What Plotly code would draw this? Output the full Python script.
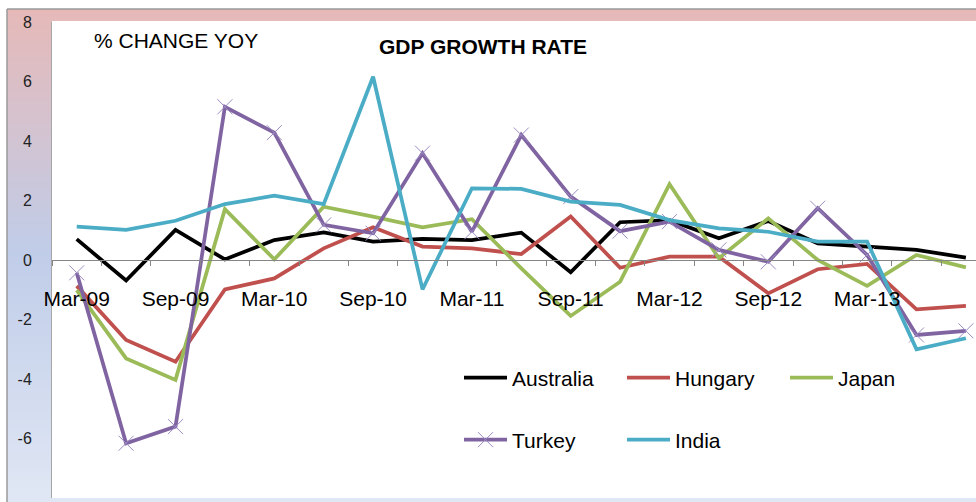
import plotly.graph_objects as go

quarters = ["Mar-09", "Jun-09", "Sep-09", "Dec-09", "Mar-10", "Jun-10", "Sep-10", "Dec-10",
            "Mar-11", "Jun-11", "Sep-11", "Dec-11", "Mar-12", "Jun-12", "Sep-12", "Dec-12",
            "Mar-13", "Jun-13", "Sep-13"]
australia = [0.70, -0.69, 1.01, 0.02, 0.67, 0.93, 0.62, 0.71, 0.67, 0.92, -0.41, 1.27,
             1.34, 0.73, 1.31, 0.56, 0.45, 0.34, 0.08]
hungary = [-0.87, -2.69, -3.42, -0.99, -0.62, 0.39, 1.10, 0.45, 0.39, 0.20, 1.46, -0.26,
           0.11, 0.11, -1.12, -0.31, -0.13, -1.66, -1.54]
japan = [-1.01, -3.31, -4.03, 1.71, 0.02, 1.79, 1.46, 1.10, 1.37, -0.28, -1.88, -0.73,
         2.55, 0.06, 1.40, 0.00, -0.87, 0.17, -0.25]
turkey = [-0.43, -6.16, -5.60, 5.15, 4.28, 1.18, 0.90, 3.59, 0.95, 4.20, 2.13, 0.97,
          1.29, 0.34, -0.06, 1.74, 0.17, -2.52, -2.38]
india = [1.12, 1.01, 1.32, 1.88, 2.16, 1.88, 6.16, -0.99, 2.41, 2.39, 1.96, 1.85,
         1.34, 1.06, 0.95, 0.62, 0.62, -3.00, -2.63]

y_ticks = [-8, -6, -4, -2, 0, 2, 4, 6, 8]
x_label_idx = list(range(0, 17, 2))

W, H = 976, 502
ML, MR, MT, MB = 52, 0, 22, 4
PW, PH = W - ML - MR, H - MT - MB

def px_to_paper_x(px):
    return (px - ML) / PW

def px_to_paper_y(py):
    return (H - MB - py) / PH

FONT = "Liberation Sans, Arial, sans-serif"
xs = list(range(len(quarters)))

fig = go.Figure()
series = [
    ("Australia", australia, "#000000", "legend"),
    ("Hungary", hungary, "#c0504d", "legend"),
    ("Japan", japan, "#9bbb59", "legend"),
    ("Turkey", turkey, "#8064a2", "legend2"),
    ("India", india, "#4bacc6", "legend2"),
]
for name, vals, col, lg in series:
    kw = {}
    if name == "Turkey":
        kw["mode"] = "lines+markers"
        kw["marker"] = dict(symbol="x-thin", size=15, line=dict(color="#9c8cc4", width=1))
    else:
        kw["mode"] = "lines"
    fig.add_trace(go.Scatter(x=xs, y=vals, name=name, line=dict(color=col, width=3.75),
                             legend=lg, hovertext=quarters, **kw))

# background gradient (chart area) via thin strips
def lerp(c1, c2, t):
    return tuple(round(a + (b - a) * t) for a, b in zip(c1, c2))

top_c, mid_c, bot_c = (230, 185, 184), (192, 205, 233), (224, 231, 244)
y_top, y_mid, y_bot = 9, 255, 502
shapes = []
step = 4
y = y_top
while y < y_bot:
    yc = y + step / 2
    if yc <= y_mid:
        c = lerp(top_c, mid_c, (yc - y_top) / (y_mid - y_top))
    else:
        c = lerp(mid_c, bot_c, (yc - y_mid) / (y_bot - y_mid))
    shapes.append(dict(type="rect", xref="paper", yref="paper", layer="below",
                       x0=px_to_paper_x(7), x1=px_to_paper_x(W + 5),
                       y0=px_to_paper_y(min(y + step + 0.5, y_bot + 2)), y1=px_to_paper_y(y),
                       fillcolor="rgb(%d,%d,%d)" % c, line=dict(width=0)))
    y += step
# outer border lines
shapes.append(dict(type="line", xref="paper", yref="paper", layer="below",
                   x0=px_to_paper_x(7), x1=px_to_paper_x(W + 5),
                   y0=px_to_paper_y(9), y1=px_to_paper_y(9), line=dict(color="#9a9a9a", width=1.5)))
shapes.append(dict(type="line", xref="paper", yref="paper", layer="below",
                   x0=px_to_paper_x(7), x1=px_to_paper_x(7),
                   y0=px_to_paper_y(9), y1=px_to_paper_y(H + 5), line=dict(color="#9a9a9a", width=1.5)))
# white plot area
shapes.append(dict(type="rect", xref="paper", yref="paper", layer="below",
                   x0=0, x1=1.01, y0=0, y1=px_to_paper_y(21),
                   fillcolor="white", line=dict(width=0)))

annotations = [
    dict(text="GDP GROWTH RATE", x=px_to_paper_x(483), y=px_to_paper_y(46), xref="paper", yref="paper",
         showarrow=False, font=dict(family=FONT, size=21, color="#000000", weight="bold"),
         xanchor="center", yanchor="middle"),
    dict(text="% CHANGE YOY", x=px_to_paper_x(176), y=px_to_paper_y(41), xref="paper", yref="paper",
         showarrow=False, font=dict(family=FONT, size=21, color="#000000"),
         xanchor="center", yanchor="middle"),
]

legend_common = dict(orientation="h", xanchor="left", yanchor="middle",
                     font=dict(family=FONT, size=21, color="#000000"),
                     bgcolor="rgba(0,0,0,0)", entrywidth=105, entrywidthmode="pixels",
                     itemwidth=43, traceorder="normal")

fig.update_layout(
    width=W, height=H,
    margin=dict(l=ML, r=MR, t=MT, b=MB, autoexpand=False),
    paper_bgcolor="white", plot_bgcolor="white",
    showlegend=True,
    legend=dict(x=px_to_paper_x(459), y=px_to_paper_y(378), **legend_common),
    legend2=dict(x=px_to_paper_x(459), y=px_to_paper_y(440), **legend_common),
    shapes=shapes,
    annotations=annotations,
    xaxis=dict(range=[-0.5, -0.5 + PW / 49.4], anchor="free", position=0.5, automargin=False,
               tickmode="array", tickvals=x_label_idx,
               ticktext=[quarters[i] for i in x_label_idx],
               ticks="", showline=True, linecolor="#868686", linewidth=1.2,
               showgrid=False, zeroline=False, ticklabelstandoff=20,
               tickfont=dict(family=FONT, size=21, color="#000000"),
               minor=dict(ticks="outside", ticklen=5, tickcolor="#868686", tickwidth=1,
                          tick0=-0.5, dtick=1, showgrid=False)),
    yaxis=dict(range=[-8, 8], tickmode="array", tickvals=y_ticks, automargin=False,
               ticktext=[str(v) for v in y_ticks], ticks="", showgrid=False, zeroline=False,
               showline=True, linecolor="#a6a6a6", linewidth=1, ticklabelstandoff=16,
               tickfont=dict(family=FONT, size=16, color="#222222")),
)

fig.write_html("out.html", config={"displayModeBar": False},
               post_script="document.body.style.margin='0';document.body.style.overflow='hidden';")
